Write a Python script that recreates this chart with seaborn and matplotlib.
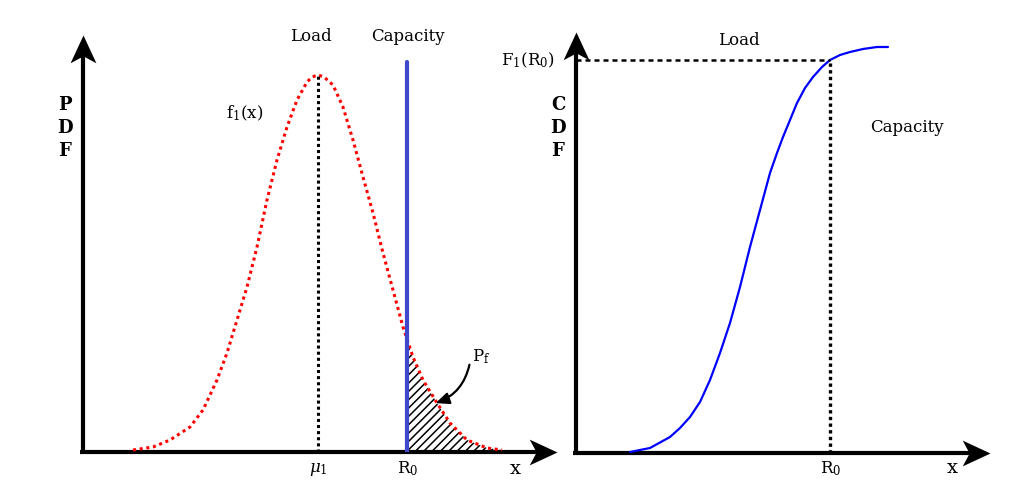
import numpy as np
import matplotlib
matplotlib.use('Agg')
import matplotlib.pyplot as plt
from matplotlib.path import Path
import seaborn as sns

# 数据（以各子图坐标原点为零点读取的像素偏移量）
# 左图：载荷概率密度 f1(x)
pdf_x = np.array([50, 70, 87, 107, 120, 134, 144, 154, 164, 174, 184, 194, 204, 214, 224, 229, 235,
                  241, 250, 260, 270, 280, 290, 300, 310, 320, 324, 330, 340, 354, 367, 384, 404, 419])
pdf_y = np.array([2, 5, 12, 25, 42, 72, 99, 132, 165, 205, 252, 292, 325, 352, 370, 375, 377,
                  375, 367, 345, 312, 275, 239, 199, 162, 125, 113, 95, 72, 49, 29, 12, 4, 2])
mu1 = 235       # 载荷均值
R0 = 324        # 抗力（容量）
cap_top = 390

# 右图：载荷累积分布 F1(x)
cdf_x = np.array([54, 74, 94, 104, 114, 124, 134, 144, 154, 164, 174, 184, 194, 201, 207, 214,
                  221, 229, 237, 246, 254, 264, 274, 287, 301, 312])
cdf_y = np.array([1, 5, 16, 25, 36, 51, 73, 100, 130, 166, 206, 243, 280, 300, 316, 333,
                  350, 365, 376, 386, 393, 398, 401, 404, 406, 406])
R0_cdf = 254
F1_R0 = 393

sns.set_style('white')
plt.rcParams['font.family'] = ['DejaVu Serif']
plt.rcParams['mathtext.fontset'] = 'dejavuserif'
plt.rcParams['text.color'] = 'black'
plt.rcParams['hatch.linewidth'] = 1.1

fig = plt.figure(figsize=(10.12, 5.03), dpi=100)
ax1 = fig.add_axes([83/1012, 51/503, 474/1012, 417/503])
ax2 = fig.add_axes([576/1012, 50/503, 414/1012, 421/503])
ax1.set_xlim(0, 474); ax1.set_ylim(0, 417)
ax2.set_xlim(0, 414); ax2.set_ylim(0, 421)

# 箭头形状（尖端在原点）
head_r = Path([(0, 0), (-28, 13), (-21, 0), (-28, -13), (0, 0)],
              [Path.MOVETO, Path.LINETO, Path.LINETO, Path.LINETO, Path.CLOSEPOLY])
head_u = Path([(0, 0), (13, -28), (0, -21), (-13, -28), (0, 0)],
              [Path.MOVETO, Path.LINETO, Path.LINETO, Path.LINETO, Path.CLOSEPOLY])


def draw_axes(ax, w, h):
    ax.set_axis_off()
    ax.plot([-3, w - 12], [0, 0], color='black', lw=3, clip_on=False, solid_capstyle='butt')
    ax.plot([0, 0], [0, h - 12], color='black', lw=3, clip_on=False, solid_capstyle='butt')
    ax.plot([w], [0], marker=head_r, ms=40, color='black', mew=0, clip_on=False)
    ax.plot([0], [h], marker=head_u, ms=40, color='black', mew=0, clip_on=False)


draw_axes(ax1, 474, 417)
draw_axes(ax2, 414, 421)

# 左图
mask = pdf_x >= R0
ax1.fill_between(pdf_x[mask], pdf_y[mask], 0, facecolor='none', edgecolor='black',
                 hatch='////', linewidth=0)
sns.lineplot(x=pdf_x, y=pdf_y, ax=ax1, color='red', lw=2.2, linestyle=(0, (1, 1.2)))
ax1.plot([mu1, mu1], [0, pdf_y.max()], color='black', lw=2.2, linestyle=(0, (1, 1)))
ax1.plot([R0, R0], [0, cap_top], color='#3f48cc', lw=3)

ax1.annotate('', xy=(350, 48), xytext=(387, 90),
             arrowprops=dict(arrowstyle='-|>,head_length=0.8,head_width=0.35', color='black', lw=1.6,
                             connectionstyle='arc3,rad=-0.3'))

fs = 12
ax1.text(228, 416, 'Load', ha='center', va='center', fontsize=fs)
ax1.text(325, 416, 'Capacity', ha='center', va='center', fontsize=fs)
ax1.text(162, 339, r'$\mathrm{f_1(x)}$', ha='center', va='center', fontsize=fs)
ax1.text(398, 95, r'$\mathrm{P_f}$', ha='center', va='center', fontsize=fs)
ax1.text(235, -17, r'$\mu_1$', ha='center', va='center', fontsize=fs, clip_on=False)
ax1.text(325, -17, r'$\mathrm{R_0}$', ha='center', va='center', fontsize=fs, clip_on=False)
ax1.text(432, -17, 'x', ha='center', va='center', fontsize=fs + 2, clip_on=False)
for t, yy in zip('PDF', [347, 324, 301]):
    ax1.text(-18, yy, t, ha='center', va='center', fontsize=fs + 1, fontweight='bold')

# 右图
sns.lineplot(x=cdf_x, y=cdf_y, ax=ax2, color='blue', lw=1.6)
ax2.plot([0, R0_cdf], [F1_R0, F1_R0], color='black', lw=1.8, linestyle=(0, (2, 1.6)))
ax2.plot([R0_cdf, R0_cdf], [0, F1_R0], color='black', lw=2.4, linestyle=(0, (1, 1)))

ax2.text(-48, 393, r'$\mathrm{F_1(R_0)}$', ha='center', va='center', fontsize=fs, clip_on=False)
ax2.text(163, 412, 'Load', ha='center', va='center', fontsize=fs)
ax2.text(331, 325, 'Capacity', ha='center', va='center', fontsize=fs)
ax2.text(255, -16, r'$\mathrm{R_0}$', ha='center', va='center', fontsize=fs, clip_on=False)
ax2.text(376, -15, 'x', ha='center', va='center', fontsize=fs + 2, clip_on=False)
for t, yy in zip('CDF', [348, 325, 302]):
    ax2.text(-18, yy, t, ha='center', va='center', fontsize=fs + 1, fontweight='bold')

plt.savefig('out.png', dpi=100)
